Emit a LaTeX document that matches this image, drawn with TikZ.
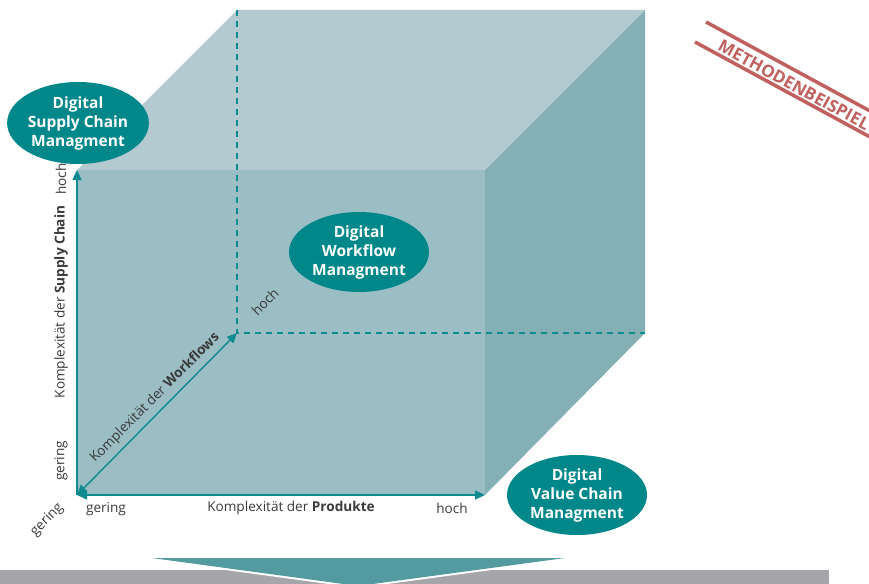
\documentclass[tikz,border=0pt]{standalone}
\usepackage{fontspec}
\setmainfont{Open Sans}
\usetikzlibrary{shapes.geometric,arrows.meta}

\definecolor{cubetop}{HTML}{B3CBD0}
\definecolor{cubefront}{HTML}{9BBDC4}
\definecolor{cuberight}{HTML}{84AFB5}
\definecolor{bubblefill}{HTML}{00878A}
\definecolor{axiscol}{HTML}{0E8B8F}
\definecolor{stampcol}{HTML}{C0605F}
\definecolor{pointerfill}{HTML}{539BA0}
\definecolor{barfill}{HTML}{A6A6AA}
\definecolor{labelcol}{HTML}{3A3A3A}

\tikzset{
  bubble/.style={ellipse, fill=bubblefill, text=white, inner sep=0pt,
    minimum width=140pt, minimum height=80pt, align=center,
    font=\bfseries\fontsize{15.5}{19}\selectfont},
  lbl/.style={text=labelcol, inner sep=0pt, font=\fontsize{13.6}{16}\selectfont},
  axisline/.style={draw=axiscol, line width=1.4pt},
  tip/.style={-{Triangle[length=10pt,width=9pt]}},
  bothtips/.style={{Triangle[length=10pt,width=9pt]}-{Triangle[length=10pt,width=9pt]}},
  hidden/.style={draw=axiscol, line width=2pt, dash pattern=on 6pt off 5pt},
  stampline/.style={draw=stampcol, line width=3.5pt},
}

\begin{document}
\begin{tikzpicture}[x=1pt,y=-1pt]
\useasboundingbox (0,0) rectangle (869,583);
\clip (0,0) rectangle (869,583);

% cube corners
\coordinate (F1) at (77,170);
\coordinate (F2) at (485,170);
\coordinate (X)  at (485,495);
\coordinate (O)  at (77,495);
\coordinate (B1) at (237,10);
\coordinate (B2) at (645,10);
\coordinate (B3) at (645,333);
\coordinate (Z)  at (237,333);

% faces
\fill[cubetop]   (F1) -- (B1) -- (B2) -- (F2) -- cycle;
\fill[cuberight] (F2) -- (B2) -- (B3) -- (X) -- cycle;
\fill[cubefront] (F1) -- (F2) -- (X) -- (O) -- cycle;

% hidden back edges
\draw[hidden] (B1) -- (Z) -- (B3);

% axes
\draw[axisline, tip] (O) -- (F1);
\draw[axisline, bothtips] (O) -- (X);
\draw[axisline, bothtips] (O) -- (Z);

% axis labels
\node[lbl, rotate=90] (yhigh) at (61,179) {hoch};
\node[lbl, rotate=90] (ytitle) at (61,302) {Komplexität der \textbf{Supply Chain}};
\node[lbl, rotate=90] (ylow) at (61,461) {gering};
\node[lbl, rotate=45] (zlow) at (47,520) {gering};
\node[lbl] (xlow) at (106,509) {gering};
\node[lbl] (xtitle) at (291,508) {Komplexität der \textbf{Produkte}};
\node[lbl] (xhigh) at (452,508) {hoch};
\node[lbl, rotate=45] (zhigh) at (265,302) {hoch};
\node[lbl, rotate=45] (ztitle) at (155,398) {Komplexität der \textbf{Workflows}};

% management fields
\node[bubble, minimum height=82pt] (scm) at (78,123) {Digital\\Supply Chain\\Managment};
\node[bubble] (wfm) at (359,252) {Digital\\Workflow\\Managment};
\node[bubble] (vcm) at (577,495) {Digital\\Value Chain\\Managment};

% stamp
\draw[stampline] (706,22) -- (905,130);
\draw[stampline] (695,42) -- (894,150);
\node[rotate=-28.5, text=stampcol, inner sep=0pt,
      font=\bfseries\fontsize{17}{17}\selectfont] (stamp) at (794,85) {METHODENBEISPIEL};

% bottom bar with pointer
\fill[barfill] (0,570) rectangle (829,590);
\draw[white, line width=4pt] (152,558) -- (565,558) -- (358,586) -- cycle;
\fill[pointerfill] (152,558) -- (565,558) -- (358,586) -- cycle;
\end{tikzpicture}
\end{document}
